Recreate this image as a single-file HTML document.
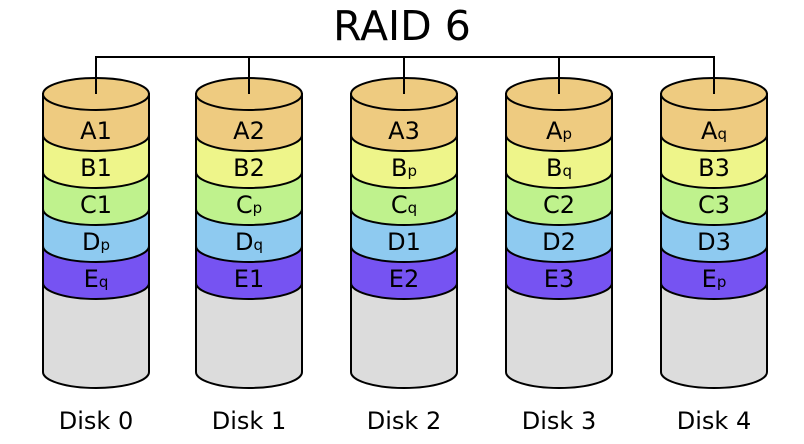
<!DOCTYPE html>
<html><head><meta charset="utf-8"><style>
html,body{margin:0;padding:0;background:#fff}
svg{display:block}
text{font-family:"DejaVu Sans","Liberation Sans",sans-serif;fill:#000}
</style></head><body>
<svg width="804" height="444" viewBox="0 0 804 444" xmlns="http://www.w3.org/2000/svg">
<defs>
<g id="cyl" stroke="#000" stroke-width="2">
<path d="M-53,283 V372 A53,16 0 0 0 53,372 V283 Z" fill="#dcdcdc"/>
<path d="M-53,246 V283 A53,16 0 0 0 53,283 V246 Z" fill="#7653f2"/>
<path d="M-53,209 V246 A53,16 0 0 0 53,246 V209 Z" fill="#8ecaf0"/>
<path d="M-53,172 V209 A53,16 0 0 0 53,209 V172 Z" fill="#bff28d"/>
<path d="M-53,135 V172 A53,16 0 0 0 53,172 V135 Z" fill="#eef58a"/>
<path d="M-53,94 V135 A53,16 0 0 0 53,135 V94 Z" fill="#eecb80"/>
<ellipse cx="0" cy="94" rx="53" ry="16" fill="#eecb80"/>
</g>
</defs>
<text x="402" y="40" font-size="41" text-anchor="middle">RAID 6</text>
<path d="M96,94 V57 H714 V94 M249,57 V94 M404,57 V94 M559,57 V94" stroke="#000" stroke-width="2" fill="none"/>
<use href="#cyl" x="96"/>
<use href="#cyl" x="249"/>
<use href="#cyl" x="404"/>
<use href="#cyl" x="559"/>
<use href="#cyl" x="714"/>
<path d="M96,57 V94 M249,57 V94 M404,57 V94 M559,57 V94 M714,57 V94" stroke="#000" stroke-width="2"/>
<g font-size="24" text-anchor="middle">
<text x="96" y="139">A1</text><text x="96" y="176">B1</text><text x="96" y="213">C1</text>
<text x="96" y="250">D<tspan font-size="15">p</tspan></text><text x="96" y="287">E<tspan font-size="15">q</tspan></text>
<text x="249" y="139">A2</text><text x="249" y="176">B2</text><text x="249" y="213">C<tspan font-size="15">p</tspan></text>
<text x="249" y="250">D<tspan font-size="15">q</tspan></text><text x="249" y="287">E1</text>
<text x="404" y="139">A3</text><text x="404" y="176">B<tspan font-size="15">p</tspan></text><text x="404" y="213">C<tspan font-size="15">q</tspan></text>
<text x="404" y="250">D1</text><text x="404" y="287">E2</text>
<text x="559" y="139">A<tspan font-size="15">p</tspan></text><text x="559" y="176">B<tspan font-size="15">q</tspan></text><text x="559" y="213">C2</text>
<text x="559" y="250">D2</text><text x="559" y="287">E3</text>
<text x="714" y="139">A<tspan font-size="15">q</tspan></text><text x="714" y="176">B3</text><text x="714" y="213">C3</text>
<text x="714" y="250">D3</text><text x="714" y="287">E<tspan font-size="15">p</tspan></text>
<text x="96" y="429">Disk 0</text><text x="249" y="429">Disk 1</text><text x="404" y="429">Disk 2</text>
<text x="559" y="429">Disk 3</text><text x="714" y="429">Disk 4</text>
</g>
</svg>
</body></html>
